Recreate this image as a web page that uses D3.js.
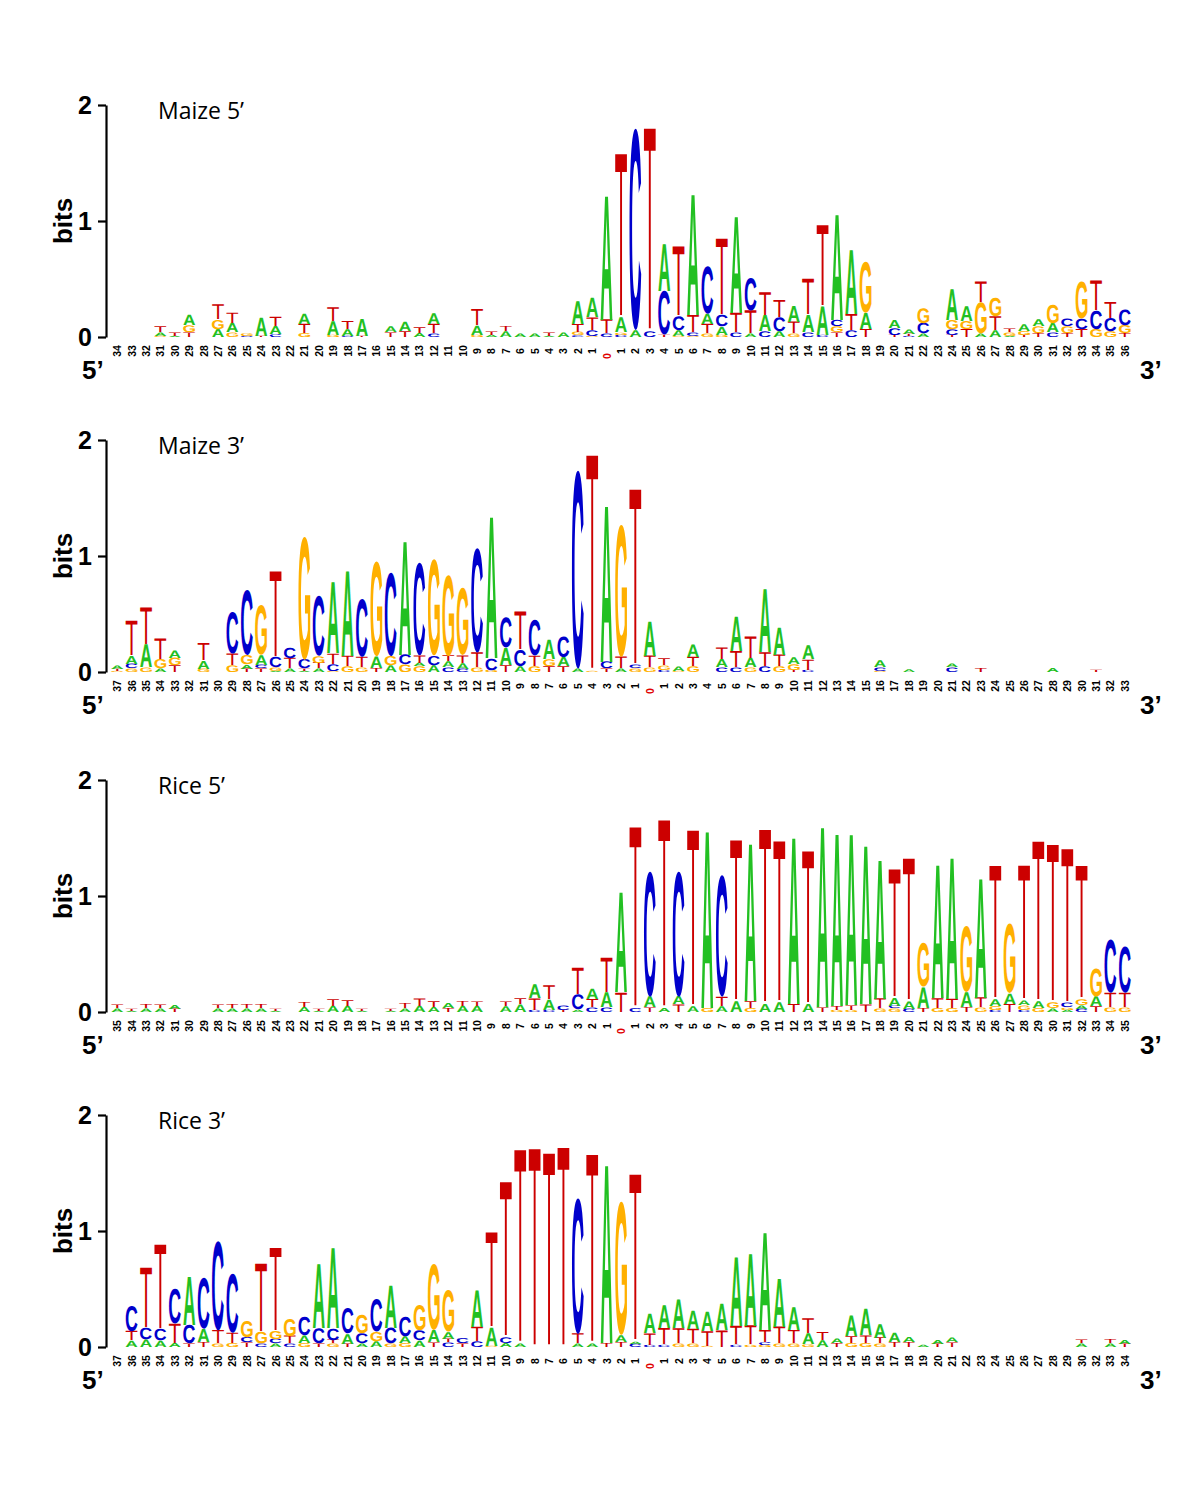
<!DOCTYPE html>
<html><head><meta charset="utf-8">
<script src="https://cdn.jsdelivr.net/npm/d3@7"></script>
<style>body{margin:0;background:#fff}svg{display:block}</style>
</head><body>
<svg id="chart" width="1200" height="1489"></svg>
<script>
// ---------- DATA (letter stacks, bottom to top, heights in bits) ----------
const maize5Labels = [34,33,32,31,30,29,28,27,26,25,24,23,22,21,20,19,18,17,16,15,14,13,12,11,10,9,8,7,6,5,4,3,2,1,0,1,2,3,4,5,6,7,8,9,10,11,12,13,14,15,16,17,18,19,20,21,22,23,24,25,26,27,28,29,30,31,32,33,34,35,36];
const maize5Stacks = [
 "", "", "", "G.01 A.03 T.05", "A.01 T.03", "T.04 G.06 A.09", "", "A.07 G.08 T.13", "G.04 A.08 T.09", "C.01 G.025",
 "T.01 A.16", "C.025 A.07 T.08", "", "G.035 T.08 A.09", "", "G.02 A.12 T.12", "C.01 A.06 T.07", "T.01 A.15", "", "T.04 A.05",
 "T.05 A.08", "A.035 T.05", "C.03 T.08 A.095", "", "", "G.02 A.08 T.14", "A.02 T.03", "A.05 T.045", "A.03", "A.03",
 "A.01 T.03", "A.04", "C.015 G.03 T.07 A.2", "G.01 C.05 T.11 A.17",
 "C.03 T.12 A1.08",
 "C.02 G.02 A.13 T1.41", "A.06 C1.74", "C.05 T1.75", "T.02 C.38 A.41", "G.01 A.05 C.12 T.6", "G.01 C.03 T.15 A1.05", "G.03 T.08 A.09 C.41", "G.02 A.07 C.1 T.66", "C.04 T.17 A.84", "A.03 T.2 C.28",
 "C.05 A.14 T.2", "A.05 C.12 T.15", "G.03 T.1 A.14", "C.04 A.15 T.31", "C.02 A.25 T.7", "T.04 G.05 C.055 A.92", "C.06 T.14 A.56", "T.07 A.14 G.44", "", "T.02 C.06 A.07",
 "C.01 T.02 A.04", "A.03 C.09 G.13", "", "T.02 C.05 G.08 A.27", "T.07 G.07 A.13", "A.03 G.27 T.18", "A.06 T.12 G.16", "A.01 G.03 T.03", "T.02 G.035 A.06", "T.035 G.06 A.06",
 "C.04 A.08 G.16", "T.035 G.06 C.065", "T.07 C.09 G.32", "G.07 C.16 T.26", "G.05 C.115 T.14", "T.035 G.07 C.135"
];

const maize3Labels = [37,36,35,34,33,32,31,30,29,28,27,26,25,24,23,22,21,20,19,18,17,16,15,14,13,12,11,10,9,8,7,6,5,4,3,2,1,0,1,2,3,4,5,6,7,8,9,10,11,12,13,14,15,16,17,18,19,20,21,22,23,24,25,26,27,28,29,30,31,32,33];
const maize3Stacks = [
 "G.01 T.02 A.03", "G.03 C.04 A.07 T.3", "G.04 A.2 T.32", "A.03 G.08 T.18", "T.06 G.065 A.065", "", "G.03 A.07 T.15", "", "G.06 T.1 C.36", "T.03 A.035 G.08 C.56",
 "T.03 C.03 A.085 G.43", "A.01 G.03 C.09 T.74", "A.03 T.09 C.09", "A.01 T.02 C.08 G1.06", "A.03 T.05 G.06 C.52", "G.01 C.06 T.09 A.62", "G.05 T.09 A.74", "G.04 T.09 C.5", "T.035 A.1 G.82", "A.06 G.08 C.72",
 "G.065 C.085 A.99", "G.05 A.03 T.065 C.8", "A.06 C.08 G.83", "C.04 A.05 T.05 G.7", "C.03 A.05 T.065 G.58", "G.04 T.13 C.9", "G.02 C.1 A1.23", "T.06 A.15 C.26", "A.05 C.14 T.33", "G.05 T.09 C.31",
 "T.05 G.06 A.17", "T.05 A.08 C.18", "A.03 C1.71", "G.01 T1.86", "T.03 C.06 A1.36", "A.03 T.1 G1.14", "G.03 C.03 T1.52",
 "G.04 T.1 A.3",
 "C.02 G.04 T.06", "G.01 A.04", "G.05 T.08 A.11", "", "C.04 A.07 T.1", "C.04 T.14 A.3", "G.04 A.08 T.19", "C.05 T.12 A.55", "G.05 T.1 A.24", "T.02 G.05 A.06",
 "C.02 T.09 A.12", "", "", "", "", "G.01 C.03 A.06", "", "A.025", "", "",
 "C.04 A.03", "", "T.035", "", "", "", "", "A.035", "", "",
 "T.02", "", ""
];

const rice5Labels = [35,34,33,32,31,30,29,28,27,26,25,24,23,22,21,20,19,18,17,16,15,14,13,12,11,10,9,8,7,6,5,4,3,2,1,0,1,2,3,4,5,6,7,8,9,10,11,12,13,14,15,16,17,18,19,20,21,22,23,24,25,26,27,28,29,30,31,32,33,34,35];
const rice5Stacks = [
 "A.03 T.03", "A.01 T.02", "A.03 T.035", "A.03 T.03", "T.03 A.035", "", "", "A.03 T.03", "A.03 T.035", "A.03 T.035",
 "A.03 T.035", "A.01 T.02", "", "A.045 T.045", "A.01 T.02", "A.055 T.06", "A.055 T.05", "A.01 T.02", "", "A.01 T.02",
 "A.03 T.045", "A.055 T.065", "A.045 T.05", "T.035 A.045", "A.055 T.045", "A.055 T.04", "", "A.05 T.04", "A.065 T.05", "C.02 T.1 A.12",
 "C.02 A.09 T.12", "T.02 C.04", "A.02 C.13 T.23", "C.04 T.07 A.09", "C.04 A.13 T.3",
 "T.17 A.87",
 "C.035 T1.56", "T.04 A.095 C1.08", "A.035 T1.62", "T.065 A.07 C1.08", "A.05 T1.52", "G.035 A1.54", "A.05 T.08 C1.05", "A.095 T1.39", "G.035 T.06 A1.37", "A.07 T1.5",
 "A.085 T1.39", "T.07 A1.45", "A.07 T1.32", "T.04 A1.57", "G.02 T.035 A1.5", "G.02 T.04 A1.49", "T.065 A1.38", "G.03 T.085 A1.21", "G.03 C.025 A.07 T1.11", "C.03 A.065 T1.23",
 "T.035 A.18 G.38", "G.035 T.085 A1.16", "G.035 T.08 A1.23", "T.045 A.13 G.57", "G.04 T.085 A1.04", "C.02 G.035 A.06 T1.15", "T.07 A.09 G.6", "C.02 G.04 A.04 T1.16", "G.035 A.06 T1.38", "A.03 G.05 T1.36",
 "A.02 G.02 C.04 T1.33", "C.03 A.03 G.05 T1.15", "T.05 A.085 G.24", "G.04 T.125 C.46", "G.04 T.125 C.4"
];

const rice3Labels = [37,36,35,34,33,32,31,30,29,28,27,26,25,24,23,22,21,20,19,18,17,16,15,14,13,12,11,10,9,8,7,6,5,4,3,2,1,0,1,2,3,4,5,6,7,8,9,10,11,12,13,14,15,16,17,18,19,20,21,22,23,24,25,26,27,28,29,30,32,33,34];
const rice3Stacks = [
 "", "A.055 T.08 C.22", "A.065 C.1 T.52", "A.055 C.1 T.73", "A.035 T.17 C.3", "T.03 C.16 A.42", "T.045 A.115 C.44", "G.03 T.115 C.77", "G.035 T.09 C.51", "T.04 C.045 G.14",
 "C.03 G.1 T.59", "A.03 C.04 G.07 T.72", "C.03 T.065 G.15", "G.035 A.065 C.16", "T.03 C.13 A.56", "G.03 T.03 C.1 A.7", "T.03 A.085 C.22", "A.03 C.085 G.16", "A.05 G.08 C.28", "G.03 C.135 A.37",
 "G.035 A.06 C.17", "A.055 C.085 G.22", "T.04 A.105 G.57", "C.04 T.03 A.06 G.36", "T.03 C.045", "C.05 T.125 A.32", "G.01 A.16 T.82", "A.035 C.05 T1.34", "A.03 T1.67", "T1.71",
 "T1.67", "T1.72", "A.03 T.085 C1.17", "A.03 T1.63", "T.035 A1.55", "T.045 A.06 G1.15", "C.03 A.02 T1.44",
 "C.02 T.1 A.17",
 "C.02 T.14 A.2", "G.03 T.13 A.25", "G.03 T.125 A.16", "G.01 T.13 A.17", "T.145 A.23", "C.02 T.16 A.6", "G.02 T.165 A.63", "G.02 C.025 T.105 A.85", "G.03 T.145 A.42", "G.03 T.115 A.2",
 "G.025 A.095 T.13", "A.06 T.07", "T.035 A.04", "G.035 T.06 A.18", "G.035 T.065 A.23", "G.03 T.05 A.12", "T.045 A.08", "T.045 A.045", "A.02", "T.03 A.035",
 "T.04 A.04", "", "", "", "", "", "", "", "", "A.03 T.03",
 "", "A.03 T.035", "T.03 A.035"
];

const panelTitles = ["Maize 5\u2019", "Maize 3\u2019", "Rice 5\u2019", "Rice 3\u2019"];
const yTickValues = [0, 1, 2];

// ---------- LAYOUT / STYLE ----------
const panelTops = [105, 440, 780, 1115];
const BIT_PX = 116;
const COLORS = {A: "#22c022", C: "#0000cc", G: "#ffb000", T: "#cc0000"};
const LETTER_FONT = "Liberation Sans";
const LETTER_WEIGHT = {A: "bold", C: "bold", G: "bold", T: "normal"};

const panels = [
  {labels: maize5Labels, stacks: maize5Stacks},
  {labels: maize3Labels, stacks: maize3Stacks},
  {labels: rice5Labels, stacks: rice5Stacks},
  {labels: rice3Labels, stacks: rice3Stacks}
];

// glyph ink metrics
const cv = document.createElement("canvas");
const ctx = cv.getContext("2d");
const metrics = {};
for (const L of "ACGT") {
  ctx.font = `${LETTER_WEIGHT[L]} 100px "${LETTER_FONT}"`;
  const m = ctx.measureText(L);
  metrics[L] = {l: m.actualBoundingBoxLeft, r: m.actualBoundingBoxRight, a: m.actualBoundingBoxAscent, d: m.actualBoundingBoxDescent};
}

function parseStack(s) {
  return s.trim() === "" ? [] : s.trim().split(/\s+/).map(t => [t[0], +t.slice(1)]);
}

function drawLetter(g, L, x0, yTop, w, h) {
  if (h <= 0) return;
  const m = metrics[L];
  const W = m.l + m.r, H = m.a + m.d;
  g.append("text")
    .text(L)
    .attr("font-family", LETTER_FONT)
    .attr("font-weight", LETTER_WEIGHT[L])
    .attr("font-size", 100)
    .attr("text-rendering", "geometricPrecision")
    .attr("fill", COLORS[L])
    .attr("transform", `translate(${x0},${yTop + h}) scale(${w / W},${h / H}) translate(${m.l},${-m.d})`);
}

const svg = d3.select("#chart");
const x = d3.scaleBand().domain(d3.range(71)).range([110, 1132]).paddingInner(0.18).paddingOuter(0.09);

panels.forEach((p, pi) => {
  const top = panelTops[pi];
  const zero = top + 2 * BIT_PX;
  const y = d3.scaleLinear().domain([0, 2]).range([zero, top]);
  const g = svg.append("g");

  // letters
  const lg = g.append("g");
  p.stacks.forEach((s, i) => {
    let cum = 0;
    parseStack(s).forEach(([L, v]) => {
      const yb = y(cum), yt = y(cum + v);
      drawLetter(lg, L, x(i), yt, x.bandwidth(), yb - yt);
      cum += v;
    });
  });

  // y axis
  const ax = g.append("g").attr("transform", "translate(106,0)")
    .call(d3.axisLeft(y).tickValues(yTickValues).tickFormat(d3.format("d")).tickSize(8).tickSizeOuter(0).tickPadding(6));
  ax.select(".domain").attr("stroke-width", 2.2);
  ax.selectAll(".tick line").attr("stroke-width", 2.2);
  ax.selectAll(".tick text").attr("font-size", 25).attr("font-weight", "bold").attr("font-family", "Liberation Sans").attr("fill", "#000");

  g.append("text")
    .attr("transform", `translate(72,${(top + zero) / 2}) rotate(-90)`)
    .attr("text-anchor", "middle")
    .attr("font-family", "Liberation Sans").attr("font-weight", "bold").attr("font-size", 26)
    .text("bits");

  // title
  g.append("text").attr("x", 158).attr("y", top + 14)
    .attr("font-family", "Open Sans").attr("font-size", 23).attr("fill", "#000")
    .text(panelTitles[pi]);

  // position labels
  p.labels.forEach((lab, i) => {
    const cx = x(i) + x.bandwidth() / 2;
    const isZero = lab === 0;
    g.append("text")
      .attr("transform", `translate(${cx},${zero + (isZero ? 19 : 14)}) rotate(-90)`)
      .attr("text-anchor", "middle").attr("dominant-baseline", "central")
      .attr("font-family", "Liberation Sans").attr("font-weight", "bold").attr("font-size", 10.5)
      .attr("fill", isZero ? "#e00000" : "#000")
      .text(lab);
  });

  // 5' / 3'
  g.append("text").attr("x", 82).attr("y", zero + 42)
    .attr("font-family", "Liberation Sans").attr("font-weight", "bold").attr("font-size", 26).text("5\u2019");
  g.append("text").attr("x", 1140).attr("y", zero + 42)
    .attr("font-family", "Liberation Sans").attr("font-weight", "bold").attr("font-size", 26).text("3\u2019");
});
</script>
</body></html>
